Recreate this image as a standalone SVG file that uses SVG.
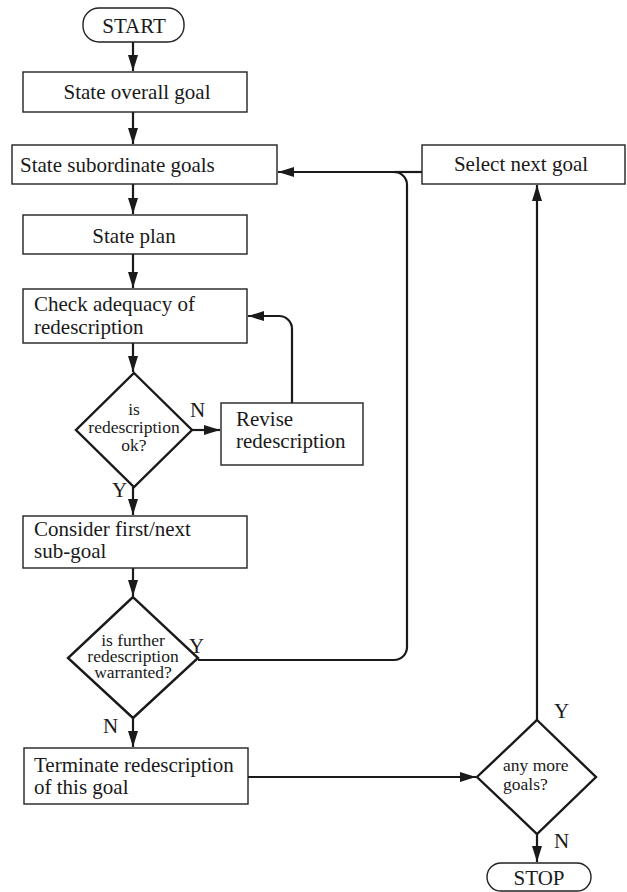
<svg xmlns="http://www.w3.org/2000/svg" width="627" height="892" viewBox="0 0 627 892">
  <style>
    .box { fill: #fff; stroke: #222; stroke-width: 1.4; }
    .term { fill: #fff; stroke: #222; stroke-width: 1.4; }
    .dia { fill: #fff; stroke: #1a1a1a; stroke-width: 2.4; stroke-linejoin: miter; }
    .con { fill: none; stroke: #1a1a1a; stroke-width: 2.2; }
    text { font-family: "Liberation Serif", "Times New Roman", serif; fill: #1a1a1a; }
    .t { font-size: 21px; }
    .c { text-anchor: middle; }
    .d { font-size: 17.5px; }
    .lbl { font-size: 21px; }
  </style>
  <defs>
    <marker id="arrow" markerUnits="userSpaceOnUse" markerWidth="17" markerHeight="11" refX="16" refY="5" orient="auto">
      <path d="M0,0 L16,5 L0,10 Z" fill="#1a1a1a"/>
    </marker>
  </defs>

  <!-- connectors -->
  <g id="connectors">
    <path class="con" d="M133,42 V71" marker-end="url(#arrow)"/>
    <path class="con" d="M133,112 V144" marker-end="url(#arrow)"/>
    <path class="con" d="M133,184 V214" marker-end="url(#arrow)"/>
    <path class="con" d="M133,254 V288" marker-end="url(#arrow)"/>
    <path class="con" d="M133,343 V372" marker-end="url(#arrow)"/>
    <path class="con" d="M192,430 H220" marker-end="url(#arrow)"/>
    <path class="con" d="M292,403 V329 A13,13 0 0 0 279,316 H248" marker-end="url(#arrow)"/>
    <path class="con" d="M133,487 V515" marker-end="url(#arrow)"/>
    <path class="con" d="M133,568 V596" marker-end="url(#arrow)"/>
    <path class="con" d="M198,660 H394 A13,13 0 0 0 407,647 V185 A13,13 0 0 0 394,172 H278" marker-end="url(#arrow)"/>
    <path class="con" d="M422,172 H394"/>
    <path class="con" d="M133,718 V747" marker-end="url(#arrow)"/>
    <path class="con" d="M248,777 H476" marker-end="url(#arrow)"/>
    <path class="con" d="M537,720 V185" marker-end="url(#arrow)"/>
    <path class="con" d="M537,834 V862" marker-end="url(#arrow)"/>
  </g>

  <!-- branch labels -->
  <g id="labels">
    <text class="lbl" x="190" y="417">N</text>
    <text class="lbl" x="112" y="497">Y</text>
    <text class="lbl" x="189" y="653">Y</text>
    <text class="lbl" x="103" y="733">N</text>
    <text class="lbl" x="554" y="718">Y</text>
    <text class="lbl" x="554" y="848">N</text>
  </g>

  <g id="start">
    <rect class="term" x="83" y="8" width="101" height="34" rx="16"/>
    <text class="t c" x="134" y="33">START</text>
  </g>

  <g id="overall-goal">
    <rect class="box" x="23" y="72" width="224" height="40"/>
    <text class="t c" x="137" y="99">State overall goal</text>
  </g>

  <g id="subordinate-goals">
    <rect class="box" x="12" y="145" width="265" height="39"/>
    <text class="t" x="20" y="172">State subordinate goals</text>
  </g>

  <g id="select-next-goal">
    <rect class="box" x="422" y="145" width="203" height="39"/>
    <text class="t c" x="521" y="171">Select next goal</text>
  </g>

  <g id="state-plan">
    <rect class="box" x="23" y="215" width="224" height="39"/>
    <text class="t c" x="134" y="243">State plan</text>
  </g>

  <g id="check-adequacy">
    <rect class="box" x="23" y="289" width="224" height="54"/>
    <text class="t" x="34" y="311">Check adequacy of</text>
    <text class="t" x="34" y="334">redescription</text>
  </g>

  <g id="redescription-ok">
    <polygon class="dia" points="134,373 192,430 134,487 76,430"/>
    <text class="d c" x="134" y="415">is</text>
    <text class="d c" x="134" y="433">redescription</text>
    <text class="d c" x="134" y="451">ok?</text>
  </g>

  <g id="revise">
    <rect class="box" x="221" y="403" width="142" height="62"/>
    <text class="t" x="236" y="426">Revise</text>
    <text class="t" x="236" y="448">redescription</text>
  </g>

  <g id="consider-subgoal">
    <rect class="box" x="23" y="516" width="224" height="52"/>
    <text class="t" x="34" y="536">Consider first/next</text>
    <text class="t" x="34" y="558">sub-goal</text>
  </g>

  <g id="further-warranted">
    <polygon class="dia" points="133,597 198,658 133,718 68,658"/>
    <text class="d c" x="133" y="646">is further</text>
    <text class="d c" x="133" y="662">redescription</text>
    <text class="d c" x="133" y="678">warranted?</text>
  </g>

  <g id="terminate">
    <rect class="box" x="24" y="748" width="224" height="56"/>
    <text class="t" x="34" y="772">Terminate redescription</text>
    <text class="t" x="34" y="794">of this goal</text>
  </g>

  <g id="more-goals">
    <polygon class="dia" points="537,720 596,777 537,834 477,777"/>
    <text class="d" x="503" y="771">any more</text>
    <text class="d" x="503" y="790">goals?</text>
  </g>

  <g id="stop">
    <rect class="term" x="487" y="863" width="104" height="28" rx="14"/>
    <text class="t c" x="539" y="885">STOP</text>
  </g>
</svg>
